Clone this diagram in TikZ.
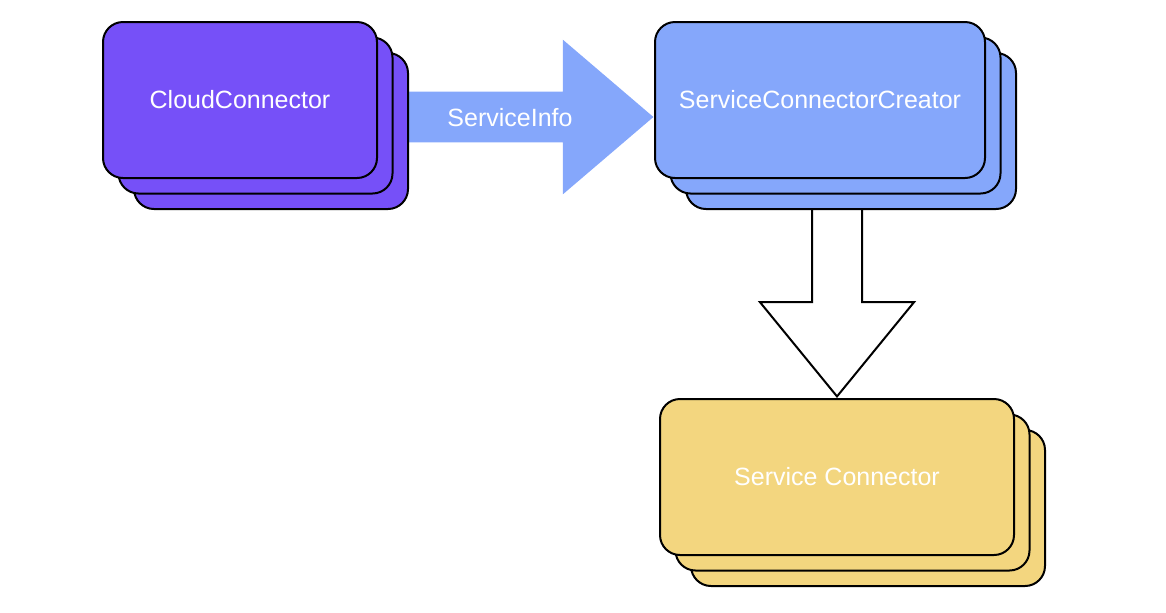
\documentclass[tikz,border=0pt]{standalone}
\usepackage{fontspec}
\setmainfont{Liberation Sans}
\usepackage{xcolor}
\usepackage{tikz}
\usetikzlibrary{shapes.arrows, positioning, shadows, backgrounds}
\definecolor{cloudpurple}{RGB}{118,80,248}
\definecolor{creatorblue}{RGB}{133,167,251}
\definecolor{connectoryellow}{RGB}{243,214,127}
\tikzset{
    component/.style={
        rectangle,
        draw=black,
        line width=1pt,
        rounded corners=10pt,
        minimum height=78pt,
        text=white,
        font=\fontsize{12.5}{15}\selectfont,
        copy shadow={shadow xshift=15.5pt, shadow yshift=-15.5pt},
        copy shadow={shadow xshift=7.75pt, shadow yshift=-7.75pt}
    },
    infoarrow/.style={
        single arrow,
        fill=creatorblue,
        draw=none,
        minimum width=77pt,
        minimum height=128.5pt,
        single arrow head extend=26pt,
        single arrow tip angle=81,
        inner xsep=0pt,
        inner ysep=8pt,
        text height=9pt,
        text depth=0pt,
        text=white,
        font=\fontsize{12.5}{15}\selectfont
    },
    createarrow/.style={
        single arrow,
        shape border rotate=270,
        fill=white,
        draw=black,
        line width=1pt,
        minimum width=76pt,
        minimum height=104.5pt,
        single arrow head extend=26pt,
        single arrow tip angle=78.5,
        inner sep=12pt
    }
}

\begin{document}
\begin{tikzpicture}
\useasboundingbox (0,0) rectangle (583pt,-306pt);

% Cloud connector (left)
\node[component, fill=cloudpurple, minimum width=137pt] (cloud) at (120pt,-50pt) {CloudConnector};

% Creator (right)
\node[component, fill=creatorblue, minimum width=165pt, right=138pt of cloud] (creator) {ServiceConnectorCreator};

% Service connector (below creator)
\node[component, fill=connectoryellow, minimum width=177pt, below=109.5pt of creator, xshift=8.5pt] (connector) {Service Connector};

% Big arrows, behind the stacks
\begin{scope}[on background layer]
\node[infoarrow, anchor=tip] (info) at ([yshift=-8.5pt]creator.west) {ServiceInfo};
\node[createarrow, anchor=tip] (create) at (connector.north) {};
\end{scope}

\end{tikzpicture}
\end{document}
